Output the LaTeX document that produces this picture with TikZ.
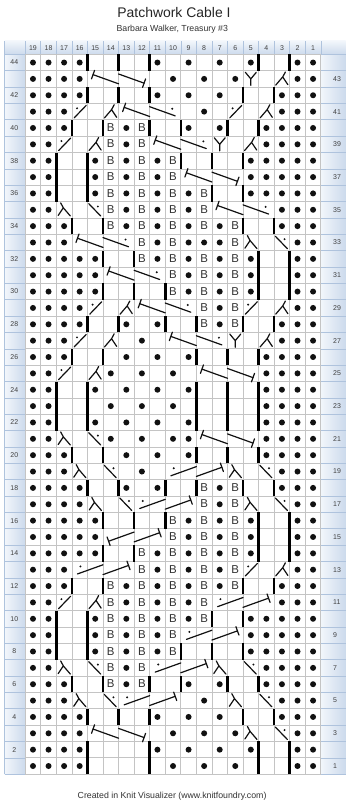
\documentclass[tikz,border=0pt]{standalone}
\usepackage{fontspec}
\setmainfont{Liberation Sans}
\usetikzlibrary{calc}
\definecolor{gridgray}{HTML}{C4C4C4}
\definecolor{hdrtop}{HTML}{F2F6FB}
\definecolor{hdrbot}{HTML}{CCDAEC}
\definecolor{hdrline}{HTML}{AFC3DD}
\definecolor{inkgray}{HTML}{111111}
\tikzset{
  gridln/.style={draw=gridgray, line width=0.7bp},
  barln/.style={line width=2.6bp, black},
  cab/.style={line width=1.2bp, inkgray, line cap=round, line join=round},
  bnode/.style={font=\fontsize{11.5}{11.5}\selectfont, inner sep=0pt, text=black!80},
  hdr/.style={font=\fontsize{7}{7}\selectfont, inner sep=0pt, text=black!75},
}
\newcommand\glyp[2]{\fill[inkgray] (#1+0.5,#2-0.5) circle (3bp);}
\newcommand\glyk[2]{}
\newcommand\glyc[2]{}
\newcommand\glyb[2]{\node[bnode] (B-#1-#2) at (#1+0.5,#2-0.48) {B};}
\newcommand\glys[2]{\begin{scope}[shift={(#1,#2-1)}]\draw[cab] (0.15,0.12)--(0.92,0.88);\fill[inkgray] (0.33,0.7) circle (1.1bp);\end{scope}}
\newcommand\glyz[2]{\begin{scope}[shift={(#1,#2-1)}]\draw[cab] (0.85,0.12)--(0.08,0.88);\fill[inkgray] (0.67,0.7) circle (1.1bp);\end{scope}}
\newcommand\glyi[2]{\begin{scope}[shift={(#1,#2-1)}]\draw[cab] (0.1,0.12)--(0.55,0.62)--(0.88,0.15) (0.55,0.62)--(0.72,0.92);\end{scope}}
\newcommand\glyl[2]{\begin{scope}[shift={(#1,#2-1)}]\draw[cab] (0.9,0.12)--(0.45,0.62)--(0.12,0.15) (0.45,0.62)--(0.28,0.92);\end{scope}}
\newcommand\glyy[2]{\begin{scope}[shift={(#1,#2-1)}]\draw[cab] (0.15,0.9)--(0.5,0.5)--(0.85,0.9) (0.5,0.5)--(0.5,0.1);\end{scope}}
% descending 2/2 cable: #1 start index, #2 row, #3 t (tick end) or d (dot end)
\newcommand\cabD[3]{\begin{scope}[shift={(#1,#2-1)}]
  \coordinate (p1) at (0.36,0.76); \coordinate (p2) at (2.0,0.2);
  \coordinate (p3) at (2.0,0.8); \coordinate (p4) at (3.64,0.24);
  \draw[cab] (p1)--(p2) (p3)--(p4);
  \draw[cab] ($(p1)!4.5bp!90:(p2)$)--($(p1)!4.5bp!-90:(p2)$);
  \ifx t#3 \draw[cab] ($(p4)!4.5bp!90:(p3)$)--($(p4)!4.5bp!-90:(p3)$);
  \else \fill[inkgray] (3.45,0.68) circle (1.1bp); \fi
\end{scope}}
% ascending 2/2 cable: #3 t (tick start) or d (dot start)
\newcommand\cabA[3]{\begin{scope}[shift={(#1,#2-1)}]
  \coordinate (p1) at (0.36,0.24); \coordinate (p2) at (2.0,0.8);
  \coordinate (p3) at (2.0,0.2); \coordinate (p4) at (3.64,0.76);
  \draw[cab] (p1)--(p2) (p3)--(p4);
  \draw[cab] ($(p4)!4.5bp!90:(p3)$)--($(p4)!4.5bp!-90:(p3)$);
  \ifx t#3 \draw[cab] ($(p1)!4.5bp!90:(p2)$)--($(p1)!4.5bp!-90:(p2)$);
  \else \fill[inkgray] (0.55,0.7) circle (1.1bp); \fi
\end{scope}}
\newcommand\KRow[2]{\foreach \t [count=\n from 0] in {#2}{\csname gly\t\endcsname{\n}{#1}}}
\newcommand\KBars[2]{\foreach \b in {#2}{\draw[barln] (\b,#1-1)--(\b,#1);}}
\begin{document}
\begin{tikzpicture}[x=15.56bp,y=16.36bp]
\useasboundingbox (-1.6195,-2.0049) rectangle (20.5553,47.3227);
\fill[white] (-1.6195,-2.0049) rectangle (20.5553,47.3227);
% titles
\node[font=\fontsize{14}{14}\selectfont, text=black!85] (title) at (9.56,46.58) {Patchwork Cable I};
\node[font=\fontsize{8.8}{8.8}\selectfont, text=black!80] (sub) at (9.45,45.55) {Barbara Walker, Treasury \#3};
\node[font=\fontsize{8.8}{8.8}\selectfont, text=black!80] (foot) at (9.44,-1.34) {Created in Knit Visualizer (www.knitfoundry.com)};
% header band and label columns
\shade[top color=hdrtop, bottom color=hdrbot] (-1.32,44) rectangle (20.6,44.82);
\shade[left color=hdrtop, right color=hdrbot] (-1.32,0) rectangle (0,44);
\shade[left color=hdrtop, right color=hdrbot] (19,0) rectangle (20.6,44);
\foreach \x in {0,...,19} \draw[hdrline, line width=0.6bp] (\x,44)--(\x,44.82);
\foreach \y in {0,...,44} {\draw[hdrline, line width=0.6bp] (-1.32,\y)--(0,\y); \draw[hdrline, line width=0.6bp] (19,\y)--(20.6,\y);}
\draw[hdrline, line width=0.6bp] (-1.32,0)--(-1.32,44.82);
\foreach \c in {1,...,19} \node[hdr] (h\c) at (19-\c+0.5,44.41) {\c};
\foreach \r in {2,4,...,44} \node[hdr] (L\r) at (-0.7,\r-0.5) {\r};
\foreach \r in {1,3,...,43} \node[hdr, anchor=west] (R\r) at (19.78,\r-0.5) {\r};
% grid
\fill[white] (0,0) rectangle (19,44);
\foreach \x in {0,...,19} \draw[gridln] (\x,0)--(\x,44);
\foreach \y in {0,...,44} \draw[gridln] (0,\y)--(19,\y);
% rows
\KRow{44}{p,p,p,p,k,k,k,k,p,k,p,k,p,k,p,k,k,p,p}\KBars{44}{4,6,8,15,17}
\KRow{43}{p,p,p,p,c,c,c,c,k,p,k,p,k,p,y,k,i,p,p}\cabD{4}{43}{t}
\KRow{42}{p,p,p,p,k,k,k,k,p,k,p,k,p,k,k,k,p,p,p}\KBars{42}{4,6,8,14,16}
\KRow{41}{p,p,p,s,k,i,c,c,c,c,k,p,k,s,k,i,p,p,p}\cabD{6}{41}{d}
\KRow{40}{p,p,p,k,k,b,p,b,k,k,p,k,p,k,k,p,p,p,p}\KBars{40}{3,5,8,10,13,15}
\KRow{39}{p,p,s,k,i,b,p,b,c,c,c,c,y,k,i,p,p,p,p}\cabD{8}{39}{d}
\KRow{38}{p,p,k,k,p,b,p,b,p,b,k,k,k,k,p,p,p,p,p}\KBars{38}{2,4,10,12,14}
\KRow{37}{p,p,k,k,p,b,p,b,p,b,c,c,c,c,p,p,p,p,p}\cabD{10}{37}{t}\KBars{37}{2,4}
\KRow{36}{p,p,k,k,p,b,p,b,p,b,p,b,k,k,p,p,p,p,p}\KBars{36}{2,4,12,14}
\KRow{35}{p,p,l,k,z,b,p,b,p,b,p,b,c,c,c,c,p,p,p}\cabD{12}{35}{d}
\KRow{34}{p,p,p,k,k,b,p,b,p,b,p,b,p,b,k,k,p,p,p}\KBars{34}{3,5,14,16}
\KRow{33}{p,p,p,c,c,c,c,b,p,b,p,p,p,b,l,k,z,p,p}\cabD{3}{33}{d}
\KRow{32}{p,p,p,p,p,k,k,b,p,b,p,b,p,b,p,k,k,p,p}\KBars{32}{5,7,15,17}
\KRow{31}{p,p,p,p,p,c,c,c,c,b,p,b,p,b,p,k,k,p,p}\cabD{5}{31}{d}\KBars{31}{15,17}
\KRow{30}{p,p,p,p,p,k,k,k,k,b,p,b,p,b,p,k,k,p,p}\KBars{30}{5,7,9,15,17}
\KRow{29}{p,p,p,p,s,k,i,c,c,c,c,b,p,b,s,k,i,p,p}\cabD{7}{29}{d}
\KRow{28}{p,p,p,p,k,k,p,k,p,k,k,b,p,b,k,k,p,p,p}\KBars{28}{4,6,9,11,14,16}
\KRow{27}{p,p,p,s,k,i,k,p,k,c,c,c,c,y,k,i,p,p,p}\cabD{9}{27}{d}
\KRow{26}{p,p,p,k,k,k,p,k,p,k,p,k,k,k,k,p,p,p,p}\KBars{26}{3,5,11,13,15}
\KRow{25}{p,p,s,k,i,p,k,p,k,p,k,c,c,c,c,p,p,p,p}\cabD{11}{25}{t}
\KRow{24}{p,p,k,k,p,k,p,k,p,k,p,k,k,k,k,p,p,p,p}\KBars{24}{2,4,11,13,15}
\KRow{23}{p,p,k,k,k,p,k,p,k,p,k,k,k,k,k,p,p,p,p}\KBars{23}{2,4,11,13,15}
\KRow{22}{p,p,k,k,p,k,p,k,p,k,p,k,k,k,k,p,p,p,p}\KBars{22}{2,4,11,13,15}
\KRow{21}{p,p,l,k,z,p,k,p,k,p,p,c,c,c,c,p,p,p,p}\cabD{11}{21}{t}
\KRow{20}{p,p,p,k,k,k,p,k,p,k,p,k,k,k,k,p,p,p,p}\KBars{20}{3,5,11,13,15}
\KRow{19}{p,p,p,l,k,z,k,p,k,c,c,c,c,l,k,z,p,p,p}\cabA{9}{19}{d}
\KRow{18}{p,p,p,p,k,k,p,k,p,k,k,b,p,b,k,k,p,p,p}\KBars{18}{4,6,9,11,14,16}
\KRow{17}{p,p,p,p,l,k,z,c,c,c,c,b,p,b,l,k,z,p,p}\cabA{7}{17}{d}
\KRow{16}{p,p,p,p,p,k,k,k,k,b,p,b,p,b,p,k,k,p,p}\KBars{16}{5,7,9,15,17}
\KRow{15}{p,p,p,p,p,c,c,c,c,b,p,b,p,b,p,k,k,p,p}\cabA{5}{15}{t}\KBars{15}{15,17}
\KRow{14}{p,p,p,p,p,k,k,b,p,b,p,b,p,b,p,k,k,p,p}\KBars{14}{5,7,15,17}
\KRow{13}{p,p,p,c,c,c,c,b,p,b,p,b,p,b,s,k,i,p,p}\cabA{3}{13}{d}
\KRow{12}{p,p,p,k,k,b,p,b,p,b,p,b,p,b,k,k,p,p,p}\KBars{12}{3,5,14,16}
\KRow{11}{p,p,s,k,i,b,p,b,p,b,p,b,c,c,c,c,p,p,p}\cabA{12}{11}{d}
\KRow{10}{p,p,k,k,p,b,p,b,p,b,p,b,k,k,p,p,p,p,p}\KBars{10}{2,4,12,14}
\KRow{9}{p,p,k,k,p,b,p,b,p,b,c,c,c,c,p,p,p,p,p}\cabA{10}{9}{d}\KBars{9}{2,4}
\KRow{8}{p,p,k,k,p,b,p,b,p,b,k,k,k,k,p,p,p,p,p}\KBars{8}{2,4,10,12,14}
\KRow{7}{p,p,l,k,z,b,p,b,c,c,c,c,l,k,z,p,p,p,p}\cabA{8}{7}{d}
\KRow{6}{p,p,p,k,k,b,p,b,k,k,p,k,p,k,k,p,p,p,p}\KBars{6}{3,5,8,10,13,15}
\KRow{5}{p,p,p,l,k,z,c,c,c,c,k,p,k,l,k,z,p,p,p}\cabA{6}{5}{d}
\KRow{4}{p,p,p,p,k,k,k,k,p,k,p,k,p,k,k,k,p,p,p}\KBars{4}{4,6,8,14,16}
\KRow{3}{p,p,p,p,c,c,c,c,k,p,k,p,k,p,l,k,z,p,p}\cabD{4}{3}{t}
\KRow{2}{p,p,p,p,k,k,k,k,p,k,p,k,p,k,p,k,k,p,p}\KBars{2}{4,8,15,17}
\KRow{1}{p,p,p,p,k,k,k,k,k,p,k,p,k,p,k,k,k,p,p}\KBars{1}{4,8,15,17}
\end{tikzpicture}
\end{document}
